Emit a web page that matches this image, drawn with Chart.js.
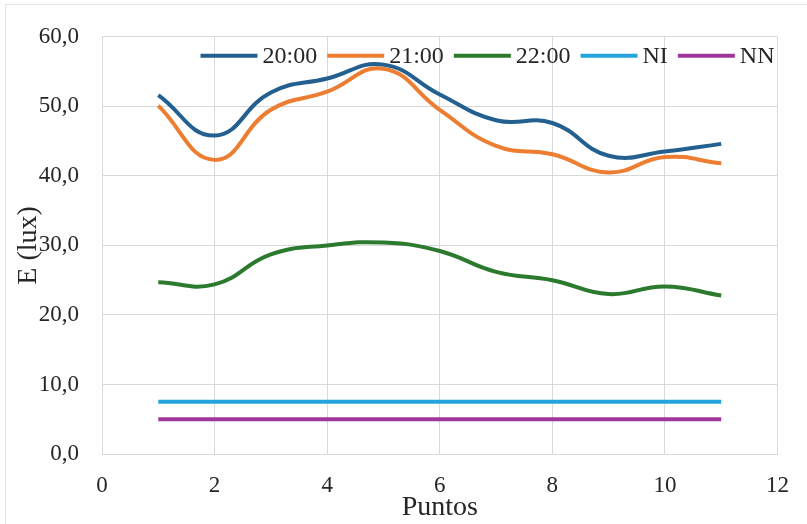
<!DOCTYPE html>
<html>
<head>
<meta charset="utf-8">
<title>E (lux) por puntos</title>
<script src="https://cdn.jsdelivr.net/npm/chart.js@4.4.1/dist/chart.umd.min.js"></script>
<style>
    body { margin: 0; background: #fff; }
    .frame {
        position: absolute;
        left: 5px;
        top: 4px;
        width: 820px;
        height: 540px;
        border: 1px solid #e3e3e3;
    }
    .wrap { position: absolute; left: 0; top: 0; width: 807px; height: 524px; }
</style>
</head>
<body>
<div class="frame"></div>
<div class="wrap"><canvas id="chart" width="807" height="524"></canvas></div>
<script>
// Puntos de medición
const puntos = [1, 2, 3, 4, 5, 6, 7, 8, 9, 10, 11];

// Iluminancia medida (lux)
const e2000 = [51.6, 45.8, 52.0, 54.0, 56.0, 51.7, 48.0, 47.6, 42.9, 43.5, 44.6];
const e2100 = [50.1, 42.3, 49.5, 52.1, 55.4, 49.5, 44.3, 43.1, 40.5, 42.7, 41.8];
const e2200 = [24.7, 24.4, 28.7, 30.0, 30.4, 29.2, 26.2, 25.0, 23.0, 24.1, 22.8];
const nivelNI = [7.5, 7.5, 7.5, 7.5, 7.5, 7.5, 7.5, 7.5, 7.5, 7.5, 7.5];
const nivelNN = [5.0, 5.0, 5.0, 5.0, 5.0, 5.0, 5.0, 5.0, 5.0, 5.0, 5.0];

const seriesNames = ['20:00', '21:00', '22:00', 'NI', 'NN'];
const seriesValues = [e2000, e2100, e2200, nivelNI, nivelNN];
const seriesColors = ['#23608f', '#ed7d31', '#2b7a2e', '#23a4dc', '#a0369c'];

const FONT = "'Liberation Serif', 'Times New Roman', serif";
const TEXT = '#262626';
const GRID = '#d9d9d9';

function toPoints(values) {
    return values.map((v, i) => ({ x: puntos[i], y: v }));
}

const datasets = seriesNames.map((name, i) => ({
    label: name,
    data: toPoints(seriesValues[i]),
    borderColor: seriesColors[i],
    backgroundColor: seriesColors[i],
    borderWidth: 4,
    pointRadius: 0,
    tension: i < 3 ? 0.45 : 0,
    fill: false
}));

// Excel-style legend: one row, inside the plot, top right
const inlineLegend = {
    id: 'inlineLegend',
    afterDraw(chart) {
        const c = chart.ctx;
        const area = chart.chartArea;
        const lineLen = 57, gap = 5, itemGap = 10;
        c.save();
        c.font = '24px ' + FONT;
        c.textBaseline = 'middle';
        const items = chart.data.datasets.map(ds => ({
            label: ds.label,
            color: ds.borderColor,
            width: c.measureText(ds.label).width
        }));
        let total = 0;
        items.forEach((it, i) => {
            total += lineLen + gap + it.width + (i > 0 ? itemGap : 0);
        });
        let x = area.right - 3 - total;
        const y = area.top + 19;
        items.forEach(it => {
            c.strokeStyle = it.color;
            c.lineWidth = 4;
            c.beginPath();
            c.moveTo(x, y);
            c.lineTo(x + lineLen, y);
            c.stroke();
            c.fillStyle = TEXT;
            c.fillText(it.label, x + lineLen + gap, y + 1);
            x += lineLen + gap + it.width + itemGap;
        });
        c.restore();
    }
};

const ctx = document.getElementById('chart').getContext('2d');
new Chart(ctx, {
    type: 'line',
    data: { datasets: datasets },
    plugins: [inlineLegend],
    options: {
        responsive: false,
        animation: false,
        layout: {
            padding: { left: 0, right: 29, top: 30, bottom: 0 }
        },
        plugins: {
            legend: { display: false },
            tooltip: { enabled: false }
        },
        scales: {
            x: {
                type: 'linear',
                min: 0,
                max: 12,
                ticks: {
                    stepSize: 2,
                    padding: 18,
                    color: TEXT,
                    font: { family: FONT, size: 23 }
                },
                grid: { color: GRID, drawTicks: false },
                border: { color: GRID },
                title: {
                    display: true,
                    text: 'Puntos',
                    color: TEXT,
                    font: { family: FONT, size: 28 },
                    padding: { top: 0, bottom: 0 }
                },
                afterFit: function(scale) {
                    scale.height = 70;
                }
            },
            y: {
                min: 0,
                max: 60,
                ticks: {
                    stepSize: 10,
                    padding: 23,
                    color: TEXT,
                    font: { family: FONT, size: 23 },
                    callback: function(value) {
                        return value.toFixed(1).replace('.', ',');
                    }
                },
                grid: { color: GRID, drawTicks: false },
                border: { color: GRID },
                title: {
                    display: true,
                    text: 'E (lux)',
                    color: TEXT,
                    font: { family: FONT, size: 28 },
                    padding: { top: 12, bottom: 0 }
                },
                afterFit: function(scale) {
                    scale.width = 102;
                }
            }
        }
    }
});
</script>
</body>
</html>
